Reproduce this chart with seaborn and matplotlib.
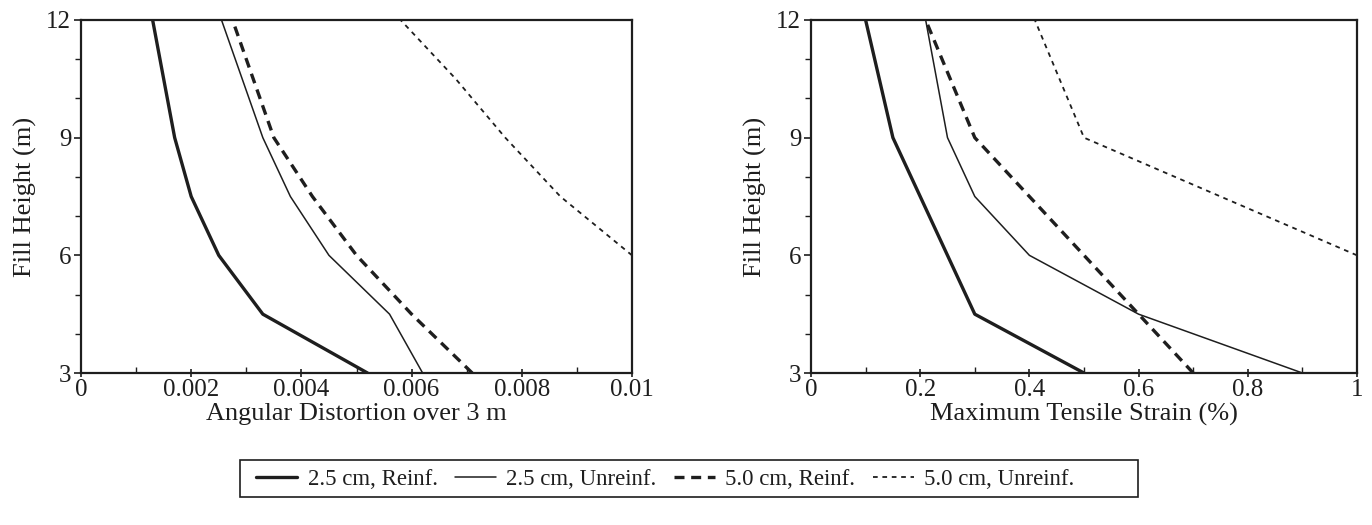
import matplotlib
matplotlib.use("Agg")
import matplotlib.pyplot as plt
from matplotlib.ticker import MultipleLocator, FixedLocator, FixedFormatter
from matplotlib.patches import Rectangle
import seaborn as sns
import pandas as pd

sns.set_theme(style="ticks")
plt.rcParams['font.family'] = ['Liberation Serif', 'DejaVu Serif']

# ---------------- data ----------------
series_names = ["2.5 cm, Reinf.", "2.5 cm, Unreinf.", "5.0 cm, Reinf.", "5.0 cm, Unreinf."]

heights_full = [3, 4.5, 6, 7.5, 9, 12]

# Left panel: angular distortion over 3 m
ang_reinf_25 = [0.0052, 0.0033, 0.0025, 0.0020, 0.0017, 0.0013]
ang_unreinf_25 = [0.0062, 0.0056, 0.0045, 0.0038, 0.0033, 0.00255]
ang_reinf_50 = [0.0071, 0.0060, 0.0050, 0.0042, 0.0035, 0.00275]
ang_unreinf_50_heights = [6, 7.5, 9, 10.5, 12]
ang_unreinf_50 = [0.0100, 0.0087, 0.0077, 0.0068, 0.0058]

# Right panel: maximum tensile strain (%)
str_reinf_25 = [0.50, 0.30, 0.25, 0.20, 0.15, 0.10]
str_unreinf_25 = [0.90, 0.60, 0.40, 0.30, 0.25, 0.21]
str_reinf_50 = [0.70, 0.60, 0.50, 0.40, 0.30, 0.21]
str_unreinf_50_heights = [6, 7.5, 9, 12]
str_unreinf_50 = [1.00, 0.75, 0.50, 0.41]

left_xticks = [0, 0.002, 0.004, 0.006, 0.008, 0.01]
left_xticklabels = ["0", "0.002", "0.004", "0.006", "0.008", "0.01"]
right_xticks = [0, 0.2, 0.4, 0.6, 0.8, 1.0]
right_xticklabels = ["0", "0.2", "0.4", "0.6", "0.8", "1"]
yticks = [3, 6, 9, 12]
yticklabels = ["3", "6", "9", "12"]

# ---------------- styles ----------------
ink = "#1e1e1e"
styles = [
    dict(linewidth=2.4, linestyle="-"),
    dict(linewidth=1.1, linestyle="-"),
    dict(linewidth=2.4, linestyle=(0, (3.0, 2.0))),
    dict(linewidth=1.3, linestyle=(0, (2.6, 2.6))),
]

W, H = 1372, 525
fig = plt.figure(figsize=(W / 100, H / 100), dpi=100)
axL = fig.add_axes([81 / W, 152 / H, 551 / W, 353 / H])
axR = fig.add_axes([811 / W, 152 / H, 546 / W, 353 / H])

left_data = [
    (ang_reinf_25, heights_full),
    (ang_unreinf_25, heights_full),
    (ang_reinf_50, heights_full),
    (ang_unreinf_50, ang_unreinf_50_heights),
]
right_data = [
    (str_reinf_25, heights_full),
    (str_unreinf_25, heights_full),
    (str_reinf_50, heights_full),
    (str_unreinf_50, str_unreinf_50_heights),
]

for ax, data in ((axL, left_data), (axR, right_data)):
    for name, (xs, ys), st in zip(series_names, data, styles):
        df = pd.DataFrame({"x": xs, "y": ys})
        sns.lineplot(data=df, x="x", y="y", ax=ax, sort=False, estimator=None,
                     color=ink, label=name, legend=False, **st)

fs_tick = 18
fs_label = 19

for ax, xt, xtl, xlab, xmax, xminor in (
    (axL, left_xticks, left_xticklabels, "Angular Distortion over 3 m", 0.01, 0.001),
    (axR, right_xticks, right_xticklabels, "Maximum Tensile Strain (%)", 1.0, 0.1),
):
    ax.set_xlim(0, xmax)
    ax.set_ylim(3, 12)
    ax.xaxis.set_major_locator(FixedLocator(xt))
    ax.xaxis.set_major_formatter(FixedFormatter(xtl))
    ax.xaxis.set_minor_locator(MultipleLocator(xminor))
    ax.yaxis.set_major_locator(FixedLocator(yticks))
    ax.yaxis.set_major_formatter(FixedFormatter(yticklabels))
    ax.yaxis.set_minor_locator(MultipleLocator(1))
    ax.set_xlabel(xlab, fontsize=fs_label, color=ink, labelpad=2)
    ax.set_ylabel("Fill Height (m)", fontsize=fs_label, color=ink, labelpad=7)
    ax.tick_params(axis="y", which="major", direction="out", length=5, width=1.2,
                   labelsize=fs_tick, colors=ink, pad=2)
    ax.tick_params(axis="y", which="minor", direction="out", length=4, width=1.0, colors=ink)
    ax.tick_params(axis="x", which="major", direction="inout", length=6, width=1.2,
                   labelsize=fs_tick, colors=ink, pad=1)
    ax.tick_params(axis="x", which="minor", direction="in", length=4, width=1.0, colors=ink)
    for sp in ax.spines.values():
        sp.set_visible(True)
        sp.set_linewidth(1.6)
        sp.set_color(ink)
    ax.set_facecolor("white")
    ax.grid(False)

# legend frame (layout element) and legend entries
fig.add_artist(Rectangle((240 / W, 1 - 497 / H), (1138 - 240) / W, (497 - 460) / H,
                         transform=fig.transFigure, fill=False, edgecolor=ink,
                         linewidth=1.2))
handles = axL.get_lines()[:4]
leg = fig.legend(handles, series_names, loc="center left",
                 bbox_to_anchor=(256 / W, 1 - 479 / H),
                 ncol=4, frameon=False, fontsize=16.5,
                 handlelength=1.8, columnspacing=0.75, handletextpad=0.45,
                 borderpad=0, borderaxespad=0)
for t in leg.get_texts():
    t.set_color(ink)

fig.savefig("out.png", dpi=100, facecolor="white")
